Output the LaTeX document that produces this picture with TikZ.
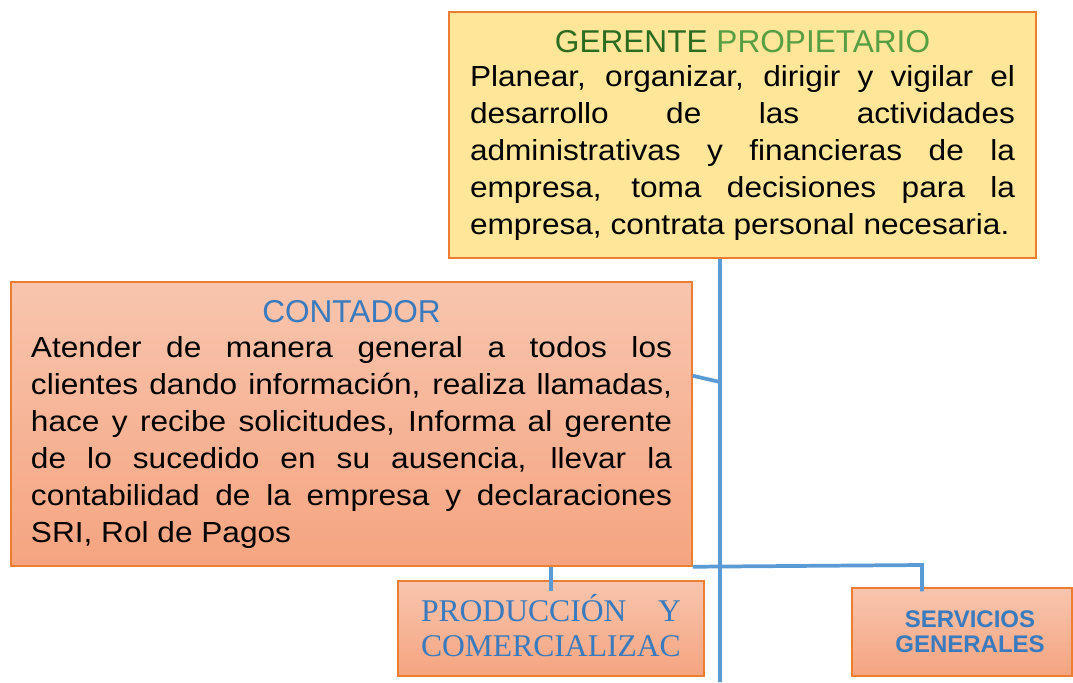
\documentclass[tikz,border=0pt]{standalone}
\usepackage{fontspec}
\setmainfont{Liberation Sans}
\newfontfamily\cuerpofont[FakeStretch=1.09]{Liberation Sans}
\newfontfamily\seriffont{Liberation Serif}
\usetikzlibrary{calc}
\definecolor{amarillo}{RGB}{255,230,153}
\definecolor{salmonsup}{RGB}{248,197,174}
\definecolor{salmoninf}{RGB}{245,164,128}
\definecolor{borde}{RGB}{237,125,49}
\definecolor{azullinea}{RGB}{91,155,213}
\definecolor{verdeosc}{RGB}{45,108,32}
\definecolor{verdecla}{RGB}{88,158,66}
\definecolor{azultitulo}{RGB}{58,122,190}
\newcommand{\titulofont}{\fontsize{23.7pt}{26pt}\selectfont}
\newcommand{\textofont}{\cuerpofont\fontsize{21.75pt}{27.75pt}\selectfont\tolerance=10000\hyphenpenalty=10000}

\begin{document}
\begin{tikzpicture}[x=0.75pt, y=-0.75pt,
  caja/.style={rectangle, draw=borde, line width=1.1pt, inner sep=0pt},
  amarilla/.style={caja, fill=amarillo},
  salmon/.style={caja, top color=salmonsup, bottom color=salmoninf},
  linea/.style={draw=azullinea, line width=2.8pt}]
\useasboundingbox (0,0) rectangle (1073,682);

\node[amarilla, minimum width=440.25pt, minimum height=184.5pt, text width=408.75pt, align=justify] (gerente) at (742.5,135) {%
  {\centering\titulofont\textcolor{verdeosc}{GERENTE} \textcolor{verdecla}{PROPIETARIO}\par}\vspace{-2.25pt}
  {\textofont Planear, organizar, dirigir y vigilar el\linebreak desarrollo de las actividades\linebreak administrativas y financieras de la\linebreak empresa, toma decisiones para la\linebreak empresa, contrata personal necesaria.\par}};

\node[salmon, minimum width=510.75pt, minimum height=213pt, text width=480.75pt, align=justify] (contador) at (351.5,424) {%
  {\centering\titulofont\textcolor{azultitulo}{CONTADOR}\par}\vspace{-1.5pt}
  {\textofont Atender de manera general a todos los\linebreak clientes dando información, realiza llamadas,\linebreak hace y recibe solicitudes, Informa al gerente\linebreak de lo sucedido en su ausencia, llevar la\linebreak contabilidad de la empresa y declaraciones\linebreak SRI, Rol de Pagos\par}};

\node[salmon, minimum width=229.5pt, minimum height=71.25pt, text width=195pt, align=left, font=\seriffont\fontsize{23.7pt}{26.25pt}\selectfont, text=azultitulo] (produccion) at (551,628.5) {%
  PRODUCCIÓN\hfill Y\\COMERCIALIZAC\rule[-4.5pt]{0pt}{4.5pt}};

\node[salmon, minimum width=165pt, minimum height=66pt, align=center, font=\bfseries\fontsize{18pt}{18.75pt}\selectfont, text=azultitulo] (servicios) at (962,632) {\hspace*{12pt}SERVICIOS\\\hspace*{12pt}GENERALES};

% conectores
\coordinate (fin) at (720,682);
\coordinate (enlace) at (720,382);
\coordinate (codo) at (922,565);
\draw[linea] (gerente.south -| fin) -- (fin);
\draw[linea] ($(contador.north east)!0.331!(contador.south east)$) -- (enlace);
\draw[linea] (contador.south east) -- (codo) -- ([yshift=-3pt]codo |- servicios.north);
\draw[linea] (produccion.north |- contador.south) -- ([yshift=-8pt]produccion.north);
\end{tikzpicture}
\end{document}
